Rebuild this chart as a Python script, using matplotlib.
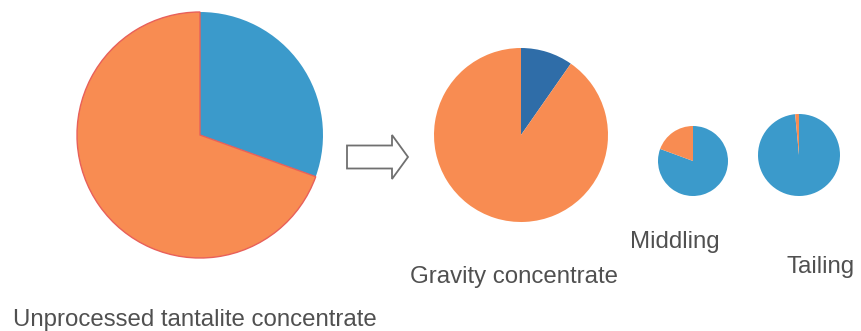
import matplotlib.pyplot as plt
from matplotlib.patches import FancyArrow

# Share of each stream (percent): blue = Ta-bearing part, orange = rest
streams = ["Unprocessed tantalite concentrate", "Gravity concentrate", "Middling", "Tailing"]
blue_share = [30.5, 9.7, 80.6, 98.5]
orange_share = [69.5, 90.3, 19.4, 1.5]

W, H = 862, 331

# pie centre (x, y from top) and radius in pixels
centres = [(200, 135), (521, 135), (693, 161), (799, 155)]
radii = [123, 87, 35, 41]
blue_colors = ["#3b9acb", "#2f6da8", "#3b9acb", "#3b9acb"]
orange = "#f88c52"

# label anchors (left, baseline from top)
label_pos = [(13, 326), (410, 283), (630, 248), (787, 273)]

fig = plt.figure(figsize=(W / 100, H / 100), dpi=100)
ax = fig.add_axes([0, 0, 1, 1])

for i in range(len(streams)):
    cx, cy = centres[i]
    wedges, _ = ax.pie([blue_share[i], orange_share[i]],
                       colors=[blue_colors[i], orange],
                       startangle=90, counterclock=False,
                       center=(cx, H - cy), radius=radii[i], frame=True)
    if i == 0:
        wedges[1].set_edgecolor("#e8605a")
        wedges[1].set_linewidth(1.0)
    lx, ly = label_pos[i]
    ax.text(lx, H - ly, streams[i], ha="left", va="baseline",
            fontsize=17.3, color="#505050", family="Liberation Sans")

# process arrow between feed and products
ax.add_patch(FancyArrow(347, H - 157, 61, 0, width=23, head_width=44,
                        head_length=16, length_includes_head=True,
                        facecolor="white", edgecolor="#707070", linewidth=1.3))

ax.set_xlim(0, W)
ax.set_ylim(0, H)
ax.set_aspect("equal")
ax.axis("off")

fig.savefig("out.png", dpi=100, facecolor="white")
